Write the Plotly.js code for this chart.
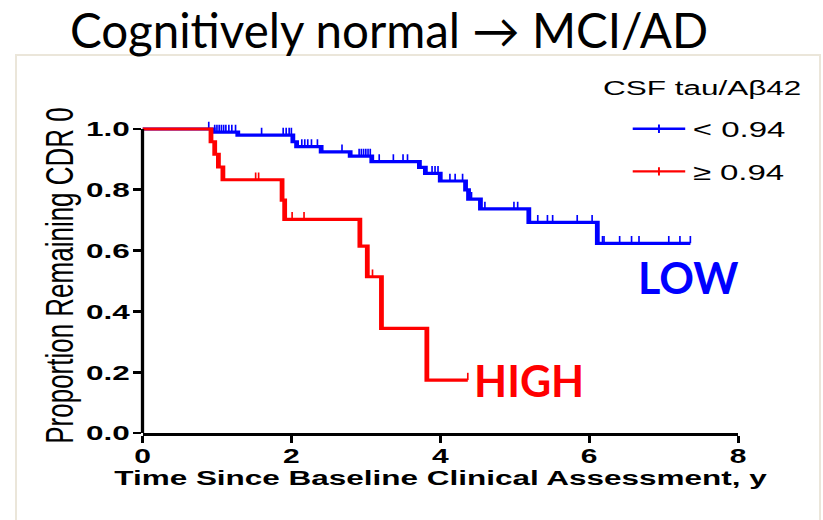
<!DOCTYPE html>
<html>
<head>
<meta charset="utf-8">
<script src="https://cdn.plot.ly/plotly-3.0.1.min.js"></script>
<style>
  html, body { margin: 0; padding: 0; background: #ffffff; }
  #wrap { position: relative; width: 823px; height: 520px; overflow: hidden; }
  /* the Prism graph is a horizontally stretched picture on the slide */
  #chart { position: absolute; left: 0; top: 0; height: 520px; transform-origin: 0 0; }
  #overlay { position: absolute; left: 0; top: 0; width: 823px; height: 520px; pointer-events: none; }
</style>
</head>
<body>
<div id="wrap"><div id="chart"></div><div id="overlay"></div></div>
<script>
// ---- Kaplan-Meier data: CSF tau/Aβ42 groups ----
// event times (years) and survival proportion after each event
const lowTimes = [0, 0.95, 1.28, 2.02, 2.07, 2.40, 2.79, 3.08, 3.72, 3.80, 4.00, 4.34, 4.38, 4.54, 5.19, 6.11];
const lowSurv  = [1.0, 0.990, 0.980, 0.958, 0.942, 0.925, 0.911, 0.893, 0.874, 0.854, 0.829, 0.800, 0.769, 0.737, 0.693, 0.624];
const lowCensored = [0.89, 0.97, 1.00, 1.03, 1.06, 1.09, 1.12, 1.16, 1.20, 1.25, 1.60, 1.89, 1.93, 1.97, 2.00,
  2.14, 2.18, 2.22, 2.27, 2.35, 2.68, 2.91, 2.94, 2.97, 3.00, 3.03, 3.06, 3.18, 3.37, 3.50, 3.56,
  3.89, 3.93, 3.97, 4.13, 4.20, 4.30, 4.42, 4.60, 4.99, 5.04, 5.31, 5.44, 5.51, 5.84, 6.04,
  6.18, 6.20, 6.41, 6.57, 6.67, 7.07, 7.22, 7.36];

const highTimes = [0, 0.92, 0.97, 1.02, 1.08, 1.875, 1.91, 2.92, 3.02, 3.21, 3.82];
const highSurv  = [1.0, 0.958, 0.917, 0.875, 0.833, 0.766, 0.703, 0.615, 0.514, 0.344, 0.174];
const highCensored = [1.52, 1.56, 2.01, 2.17, 3.09, 4.37];

const groupNames = ['< 0.94', '\u2265 0.94'];
const groupColors = ['#0000ff', '#ff0000'];
const yTickVals = [0, 0.2, 0.4, 0.6, 0.8, 1.0];
const xTickVals = [0, 2, 4, 6, 8];

// ---- geometry ----
const W = 823, H = 520;
const STRETCH = 1.5;                 // horizontal stretch of the graph picture
const innerW = W / STRETCH;
const plotLeft = 143, plotRight = 737, plotTop = 118, plotBottom = 433;
const X_RANGE = [0, 8];
const Y_RANGE = [0, (plotBottom - plotTop) / (plotBottom - 129)];

// survival value at time t from a step function
function survAt(times, surv, t) {
  let s = surv[0];
  for (let i = 0; i < times.length; i++) { if (times[i] <= t) s = surv[i]; }
  return s;
}
function stepTrace(times, surv, censored, color) {
  const end = Math.max(...censored, ...times);
  return {
    x: times.concat([end]), y: surv.concat([surv[surv.length - 1]]),
    type: 'scatter', mode: 'lines', line: { shape: 'hv', color: color, width: 3.2 },
    showlegend: false, hoverinfo: 'skip'
  };
}
function censorTrace(times, surv, censored, color) {
  return {
    x: censored, y: censored.map(t => survAt(times, surv, t)),
    type: 'scatter', mode: 'markers', marker: { size: 1, color: color, opacity: 0 },
    error_y: { type: 'constant', value: 0.024, symmetric: false, valueminus: 0,
               color: color, thickness: 1.1, width: 0 },
    showlegend: false, hoverinfo: 'skip', cliponaxis: false
  };
}
function legendTrace(name, color, group) {
  return {
    x: [null], y: [null], type: 'scatter', mode: 'lines+markers', name: name,
    legendgroup: group,
    line: { color: color, width: 2.4 },
    marker: { symbol: 'line-ns-open', size: 6, color: color, line: { color: color, width: 1.3 } }
  };
}

const traces = [
  stepTrace(lowTimes, lowSurv, lowCensored, groupColors[0]),
  censorTrace(lowTimes, lowSurv, lowCensored, groupColors[0]),
  stepTrace(highTimes, highSurv, highCensored, groupColors[1]),
  censorTrace(highTimes, highSurv, highCensored, groupColors[1]),
  legendTrace(groupNames[0], groupColors[0], 'a'),
  legendTrace(groupNames[1], groupColors[1], 'b')
];

const chartDiv = document.getElementById('chart');
chartDiv.style.width = innerW + 'px';
chartDiv.style.transform = 'scaleX(' + STRETCH + ')';

const pw = (plotRight - plotLeft) / STRETCH;
const ph = plotBottom - plotTop;
const sansFont = 'Liberation Sans, Arial, sans-serif';

const layout = {
  width: innerW, height: H,
  margin: { l: plotLeft / STRETCH, r: (W - plotRight) / STRETCH, t: plotTop, b: H - plotBottom },
  paper_bgcolor: 'rgba(0,0,0,0)', plot_bgcolor: 'rgba(0,0,0,0)',
  showlegend: true,
  legend: {
    x: ((632 / STRETCH - 5) - plotLeft / STRETCH) / pw, xanchor: 'left',
    y: (plotBottom - 108) / ph, yanchor: 'top',
    font: { family: sansFont, size: 22, color: '#000' },
    itemwidth: 35,
    bgcolor: 'rgba(0,0,0,0)', tracegroupgap: 11, traceorder: 'grouped'
  },
  xaxis: {
    range: X_RANGE, tickvals: xTickVals, showgrid: false, zeroline: false,
    showline: true, linecolor: '#000', linewidth: 2.8,
    ticks: 'outside', ticklen: 7, tickwidth: 2, tickcolor: '#000', ticklabelstandoff: -4,
    tickfont: { family: sansFont, size: 20, weight: 'bold', color: '#000' }
  },
  yaxis: {
    range: Y_RANGE, tickvals: yTickVals, tickformat: '.1f', showgrid: false, zeroline: false,
    showline: false,
    ticks: 'outside', ticklen: 8 / STRETCH, tickwidth: 2.8, tickcolor: '#000', ticklabelstandoff: -2,
    tickfont: { family: sansFont, size: 21, weight: 'bold', color: '#000' },
    title: { text: 'Proportion Remaining CDR 0', standoff: 0,
             font: { family: sansFont, size: 26, color: '#000' } }
  },
  shapes: [
    // y axis line, drawn from 0 to 1.0 only
    { type: 'line', xref: 'paper', x0: 0, x1: 0, yref: 'y', y0: 0, y1: 1.0,
      line: { color: '#000', width: 2.2 }, layer: 'above' }
  ],
  annotations: [
    // x axis title, set close under the tick labels
    { text: 'Time Since Baseline Clinical Assessment, y', xref: 'paper', yref: 'paper',
      x: 0.5, xanchor: 'center', y: (plotBottom - 477) / ph, yanchor: 'middle', showarrow: false,
      font: { family: sansFont, size: 21, weight: 'bold', color: '#000' } },
    // legend heading
    { text: 'CSF tau/A\u03b242', xref: 'paper', yref: 'paper',
      x: (600 / STRETCH - plotLeft / STRETCH) / pw, xanchor: 'left',
      y: (plotBottom - 88) / ph, yanchor: 'middle', showarrow: false,
      font: { family: sansFont, size: 21, color: '#000' } }
  ]
};

Plotly.newPlot(chartDiv, traces, layout, { staticPlot: true, displayModeBar: false });

// ---- slide layer: title, group labels and picture frame ----
const slideFont = 'Lato, Carlito, Noto Sans, sans-serif';
const overlayLayout = {
  width: W, height: H,
  margin: { l: plotLeft, r: W - plotRight, t: plotTop, b: H - plotBottom },
  paper_bgcolor: 'rgba(0,0,0,0)', plot_bgcolor: 'rgba(0,0,0,0)',
  showlegend: false,
  title: { text: 'Cognitively normal \u2192 MCI/AD', x: 389 / W, xanchor: 'center',
           y: 1 - 31 / H, yanchor: 'middle', yref: 'container',
           font: { family: slideFont, size: 47.5, color: '#000' } },
  xaxis: { range: X_RANGE, visible: false },
  yaxis: { range: Y_RANGE, visible: false },
  shapes: [
    { type: 'rect', xref: 'paper', yref: 'paper',
      x0: (16 - plotLeft) / (plotRight - plotLeft), x1: (820 - plotLeft) / (plotRight - plotLeft),
      y0: (plotBottom - 540) / ph, y1: (plotBottom - 55) / ph,
      line: { color: '#ebe6da', width: 2 }, layer: 'below' }
  ],
  annotations: [
    { text: 'LOW', xref: 'x', yref: 'y', x: 7.35, y: 0.51, showarrow: false,
      xanchor: 'center', yanchor: 'middle',
      font: { family: slideFont, size: 43, weight: 'bold', color: groupColors[0] } },
    { text: 'HIGH', xref: 'x', yref: 'y', x: 5.2, y: highSurv[highSurv.length - 1], showarrow: false,
      xanchor: 'center', yanchor: 'middle',
      font: { family: slideFont, size: 43, weight: 'bold', color: groupColors[1] } }
  ]
};
Plotly.newPlot('overlay', [], overlayLayout, { staticPlot: true, displayModeBar: false });
</script>
</body>
</html>
